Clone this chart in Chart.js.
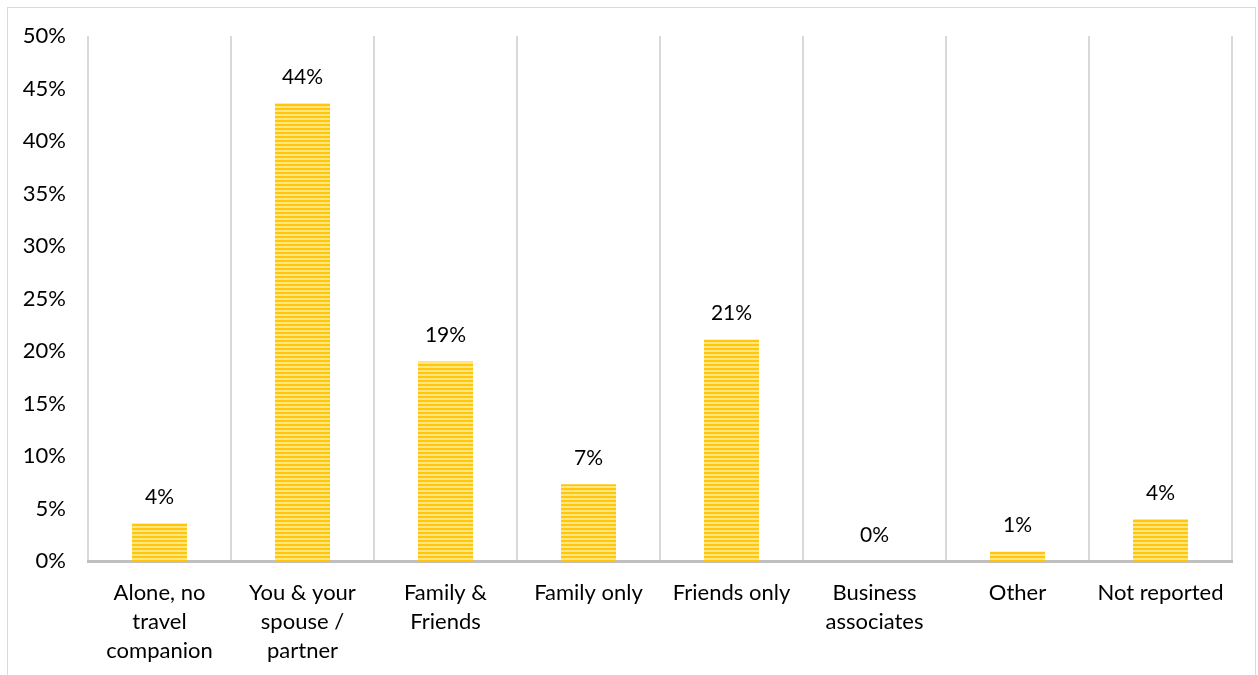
<!DOCTYPE html>
<html>
<head>
<meta charset="utf-8">
<script src="https://cdn.jsdelivr.net/npm/chart.js@4"></script>
<style>
body{margin:0;background:#fff;}
#box{position:absolute;left:7px;top:7px;width:1249px;height:675px;border:1px solid #d9d9d9;box-sizing:border-box;}
#wrap{position:absolute;left:0;top:0;width:1249px;height:668px;}
</style>
</head>
<body>
<div id="box"><div id="wrap"><canvas id="chart"></canvas></div></div>
<script>
const categories = [
  ["Alone, no","travel","companion"],
  ["You & your","spouse /","partner"],
  ["Family &","Friends"],
  ["Family only"],
  ["Friends only"],
  ["Business","associates"],
  ["Other"],
  ["Not reported"]
];
const shares = [3.6, 43.6, 19.0, 7.3, 21.1, 0, 0.9, 4.0];
const shareLabels = ["4%","44%","19%","7%","21%","0%","1%","4%"];

const FONT = "Lato, sans-serif";

function stripes(){
  const c = document.createElement("canvas");
  c.width = 4; c.height = 4;
  const g = c.getContext("2d");
  g.fillStyle = "#ffe680";
  g.fillRect(0,0,4,4);
  g.fillStyle = "#ffc60a";
  g.fillRect(0,0,4,2);
  return g.createPattern(c,"repeat");
}

const labelPlugin = {
  id:"barLabels",
  afterDatasetsDraw(chart){
    const ctx = chart.ctx;
    const meta = chart.getDatasetMeta(0);
    ctx.save();
    ctx.font = "21px " + FONT;
    ctx.fillStyle = "#000";
    ctx.textAlign = "center";
    ctx.textBaseline = "middle";
    meta.data.forEach((bar,i)=>{
      ctx.fillText(shareLabels[i], bar.x, bar.y - 26);
    });
    ctx.restore();
  }
};

new Chart(document.getElementById("chart"),{
  type:"bar",
  data:{
    labels:categories,
    datasets:[{
      data:shares,
      backgroundColor:stripes(),
      borderWidth:0,
      barPercentage:0.385,
      categoryPercentage:1
    }]
  },
  options:{
    responsive:true,
    maintainAspectRatio:false,
    animation:false,
    layout:{padding:{top:28,right:25,left:0,bottom:0}},
    plugins:{legend:{display:false},tooltip:{enabled:false}},
    scales:{
      x:{
        offset:true,
        grid:{display:true,offset:true,color:"#d9d9d9",lineWidth:2,drawTicks:false},
        border:{display:true,color:"#bfbfbf",width:3},
        ticks:{color:"#000",font:{family:FONT,size:22,lineHeight:1.32},padding:17,maxRotation:0,autoSkip:false},
        afterFit(s){ s.height = 115; }
      },
      y:{
        min:0,max:50,
        grid:{display:false,drawTicks:false},
        border:{display:false},
        ticks:{stepSize:5,color:"#000",font:{family:FONT,size:22},padding:22,callback:v=>v+"%"},
        afterFit(s){ s.width = 80; s.paddingTop = 0; s.paddingBottom = 0; }
      }
    }
  },
  plugins:[labelPlugin]
});
</script>
</body>
</html>
